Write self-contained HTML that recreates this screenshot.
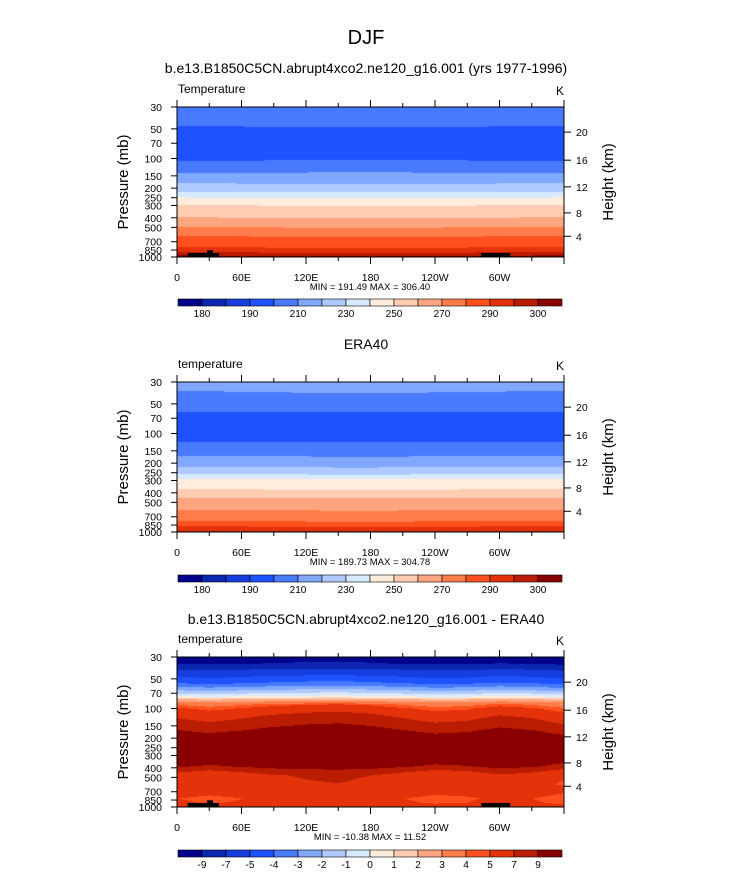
<!DOCTYPE html>
<html><head><meta charset="utf-8">
<style>
html,body{margin:0;padding:0;background:#fff;}
body{width:733px;height:873px;position:relative;overflow:hidden;font-family:"Liberation Sans",Arial,sans-serif;}
svg text{font-family:"Liberation Sans",Arial,sans-serif;}
canvas{position:absolute;z-index:1;}
#svg{z-index:2;}
</style></head>
<body>
<svg id="svg" width="733" height="873" style="position:absolute;left:0;top:0"></svg>
<script>
// ---------- data ----------
const panel1Profile = [[30,205],[45,202],[50,198],[70,194],[100,198],[110,202],[140,210],[180,220],[220,230],[250,240],[300,250],[400,260],[500,270],[620,280],[800,290],[900,295],[970,300],[1000,303]];
const panel2Profile = [[30,213],[38,210],[42,208],[58,202],[62,199],[100,193],[120,199],[125,201],[170,210],[220,220],[260,230],[290,240],[370,250],[450,260],[600,270],[780,280],[880,290],[980,295],[1000,298]];
const panel3Profile = [[30,-10],[35,-9],[40,-7],[47,-5],[55,-4],[60,-3],[65,-2],[70,-1],[75,0],[78,1],[80,2],[85,3],[90,4],[100,5.5],[120,7],[150,8.5],[180,10],[200,11],[330,11],[390,9.5],[420,8],[480,6.5],[600,6],[720,5.4],[820,5.1],[900,5.2],[1000,5.6]];
const anomLons = [0,30,60,90,120,150,180,210,240,270,300,330,360];
const panel1Anom = [-0.8,-0.6,-0.2,0.2,0.6,0.8,0.9,0.7,0.4,0.1,-0.3,-0.6,-0.8];
const panel2Anom = [-0.7,-0.5,-0.2,0.2,0.5,0.8,0.8,0.6,0.3,0,-0.3,-0.6,-0.7];
const panel3Anom = [-0.3,-0.9,-0.4,0.3,0.7,0.9,0.5,-0.3,-1.0,-0.7,0.2,-0.3,-1.3];
const tempLevels = [180,185,190,200,210,220,230,240,250,260,270,280,290,295,300];
const tempLabels = ["180","","190","","210","","230","","250","","270","","290","","300"];
const diffLevels = [-9,-7,-5,-4,-3,-2,-1,0,1,2,3,4,5,7,9];
const diffLabels = ["-9","-7","-5","-4","-3","-2","-1","0","1","2","3","4","5","7","9"];
const colors = [[0,0,140],[12,40,178],[22,62,222],[30,82,255],[72,122,255],[128,168,255],[176,202,255],[216,234,255],[255,236,220],[255,205,178],[255,165,128],[255,125,75],[255,80,30],[228,50,10],[185,28,0],[138,0,0]];
const pTicks = [30,50,70,100,150,200,250,300,400,500,700,850,1000];
const hTicks = [20,16,12,8,4];
const hPress = [54,104,194,357,616];
const lonTicks = [0,60,120,180,240,300];
const lonLabels = ["0","60E","120E","180","120W","60W"];
// terrain (missing data) blocks: [lon0, lon1, pTop]
const terrain = [[10,39,910],[28,33.5,855],[283,310,910]];

const panels = [
 {top:107,profile:panel1Profile,anom:panel1Anom,levels:tempLevels,labels:tempLabels,left:"Temperature",title:"b.e13.B1850C5CN.abrupt4xco2.ne120_g16.001 (yrs 1977-1996)",titleY:73,minmax:"MIN = 191.49  MAX = 306.40",cbY:299,terr:true,aw:0.5},
 {top:382,profile:panel2Profile,anom:panel2Anom,levels:tempLevels,labels:tempLabels,left:"temperature",title:"ERA40",titleY:349,minmax:"MIN = 189.73  MAX = 304.78",cbY:575,terr:false,aw:0.5},
 {top:657,profile:panel3Profile,anom:panel3Anom,levels:diffLevels,labels:diffLabels,left:"temperature",title:"b.e13.B1850C5CN.abrupt4xco2.ne120_g16.001 - ERA40",titleY:624,minmax:"MIN = -10.38  MAX =  11.52",cbY:850,terr:true,aw:1}
];
const X0=177,W=387,H=150;
const svg=document.getElementById('svg');
const NS="http://www.w3.org/2000/svg";
function el(tag,attrs,parent){const e=document.createElementNS(NS,tag);for(const k in attrs)e.setAttribute(k,attrs[k]);(parent||svg).appendChild(e);return e;}
function xOf(lon){return X0+lon/360*W;}
function yOf(top,p){return top+Math.log(p/30)/Math.log(1000/30)*H;}
function pOf(frac){return 30*Math.exp(frac*Math.log(1000/30));}
function interp(prof,p){const lp=Math.log(p);
 if(p<=prof[0][0])return prof[0][1];
 for(let i=1;i<prof.length;i++){if(p<=prof[i][0]){const a=Math.log(prof[i-1][0]),b=Math.log(prof[i][0]);return prof[i-1][1]+(prof[i][1]-prof[i-1][1])*(lp-a)/(b-a);}}
 return prof[prof.length-1][1];}
function anomAt(arr,lon){for(let i=1;i<anomLons.length;i++){if(lon<=anomLons[i]){const t=(lon-anomLons[i-1])/30;return arr[i-1]+(arr[i]-arr[i-1])*t;}}return arr[arr.length-1];}
function levelIndex(levels,v){let k=0;while(k<levels.length&&v>=levels[k])k++;return k;}

let t=el('text',{x:366,y:44,'font-size':20,'text-anchor':'middle'});t.textContent="DJF";


panels.forEach((P,pi)=>{
 const g=el('g',{});
 
 
 const c=document.createElement('canvas');c.width=W;c.height=H;c.style.left=X0+'px';c.style.top=P.top+'px';
 
 
 document.body.insertBefore(c,svg);
 const ctx=c.getContext('2d');const img=ctx.createImageData(W,H);
 for(let y=0;y<H;y++){const p=pOf((y+0.5)/H);
  const wgt=P.aw*(pi==2?(p>90&&p<600?1:0.3):1);
  const base=interp(P.profile,p);
  for(let x=0;x<W;x++){const lon=(x+0.5)/W*360;
   const v=base+anomAt(P.anom,lon)*wgt*(pi==2?1:(p>150?-1:1));
   const col=colors[levelIndex(P.levels,v)];const o=(y*W+x)*4;
   img.data[o]=col[0];img.data[o+1]=col[1];img.data[o+2]=col[2];img.data[o+3]=255;}}
 ctx.putImageData(img,0,0);
 if(P.terr){terrain.forEach(tr=>{const r=el('rect',{x:xOf(tr[0]),y:yOf(P.top,tr[2]),width:xOf(tr[1])-xOf(tr[0]),height:P.top+H-yOf(P.top,tr[2]),fill:'#000'},g);
  });}
 let f=el('rect',{x:X0,y:P.top,width:W,height:H,fill:'none',stroke:'#000','stroke-width':1},g);
 
 let tt=el('text',{x:366,y:P.titleY,'font-size':14,'text-anchor':'middle'},g);tt.textContent=P.title;
 
 let lt=el('text',{x:178,y:P.top-14,'font-size':12},g);lt.textContent=P.left;
 
 let kt=el('text',{x:556,y:P.top-12,'font-size':12},g);kt.textContent="K";
 
 pTicks.forEach(p=>{const y=yOf(P.top,p);el('line',{x1:X0-6,x2:X0,y1:y,y2:y,stroke:'#000'},g);
  const l=el('text',{x:X0-15,y:y+4,'font-size':10.5,'text-anchor':'end'},g);l.textContent=p;
  });
 let yt=el('text',{x:0,y:0,'font-size':15,'text-anchor':'middle',transform:`translate(128,${P.top+H/2}) rotate(-90)`},g);yt.textContent="Pressure (mb)";
 
 hTicks.forEach((h,i)=>{const y=yOf(P.top,hPress[i]);el('line',{x1:X0+W,x2:X0+W+7,y1:y,y2:y,stroke:'#000'},g);
  const l=el('text',{x:X0+W+12,y:y+4,'font-size':10.5},g);l.textContent=h;
  });
 let ht=el('text',{x:0,y:0,'font-size':15,'text-anchor':'middle',transform:`translate(613,${P.top+H/2}) rotate(-90)`},g);ht.textContent="Height (km)";
 
 for(let lon=0;lon<=360;lon+=30){const x=xOf(lon);const L=lon%60==0?7:4;
  el('line',{x1:x,x2:x,y1:P.top-L,y2:P.top,stroke:'#000'},g);
  el('line',{x1:x,x2:x,y1:P.top+H,y2:P.top+H+L,stroke:'#000'},g);}
 lonTicks.forEach((lon,i)=>{const l=el('text',{x:xOf(lon),y:P.top+H+24,'font-size':10.5,'text-anchor':'middle'},g);l.textContent=lonLabels[i];
  });
 let mm=el('text',{x:370,y:P.top+H+33,'font-size':9.5,'text-anchor':'middle'},g);mm.textContent=P.minmax;
 
 const cb=el('g',{},g);
 const bw=384/16;
 colors.forEach((col,i)=>{const r=el('rect',{x:178+i*bw,y:P.cbY,width:bw,height:7,fill:`rgb(${col})`,stroke:'#000','stroke-width':0.6},cb);
  });
 P.labels.forEach((s,i)=>{if(!s)return;const l=el('text',{x:178+(i+1)*bw,y:P.cbY+18,'font-size':10,'text-anchor':'middle'},cb);l.textContent=s;
  });
});
</script>
</body></html>
